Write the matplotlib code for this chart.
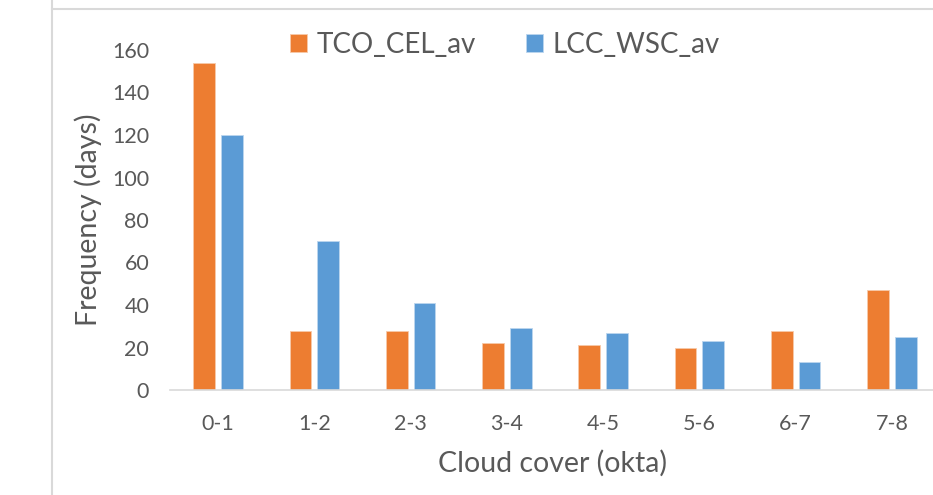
import matplotlib
matplotlib.use("Agg")
import matplotlib.pyplot as plt
from matplotlib.lines import Line2D
import numpy as np

plt.rcParams['font.family'] = ['Lato', 'DejaVu Sans']

categories = ['0-1', '1-2', '2-3', '3-4', '4-5', '5-6', '6-7', '7-8']
tco_cel_av = [154, 28, 28, 22, 21, 20, 28, 47]
lcc_wsc_av = [120, 70, 41, 29, 27, 23, 13, 25]
yticks = [0, 20, 40, 60, 80, 100, 120, 140, 160]

text_grey = '#595959'
orange = '#ED7D31'
blue = '#5B9BD5'

W, H = 933, 495
fig = plt.figure(figsize=(W / 100, H / 100), dpi=100)

# plot area runs a bit past the right edge of the figure
left, right = 170, 940
bottom, top = 390, 50
ax = fig.add_axes([left / W, 1 - bottom / H, (right - left) / W, (bottom - top) / H])

x = np.arange(len(categories))
bw = 0.225
off = 0.144
ax.bar(x - off, tco_cel_av, bw, color=orange, edgecolor='#f7c9a9', linewidth=0.6,
       label='TCO_CEL_av')
ax.bar(x + off, lcc_wsc_av, bw, color=blue, edgecolor='#bcd6ee', linewidth=0.6,
       label='LCC_WSC_av')

ax.set_xlim(-0.5, len(categories) - 0.5)
ax.set_ylim(0, 160)
ax.set_yticks(yticks)
ax.set_xticks(x)
ax.set_xticklabels(categories)

for s in ['top', 'right', 'left']:
    ax.spines[s].set_visible(False)
ax.spines['bottom'].set_color('#d9d9d9')
ax.spines['bottom'].set_linewidth(1.2)
ax.tick_params(axis='both', length=0, colors=text_grey, labelsize=15.5)
ax.tick_params(axis='x', pad=17)
ax.tick_params(axis='y', pad=15)

ax.set_ylabel('Frequency (days)', fontsize=20.5, color=text_grey, va='center')
ax.yaxis.set_label_coords((88 - left) / (right - left), 0.5)
fig.text(553 / W, 1 - 463 / H, 'Cloud cover (okta)', fontsize=20.5, color=text_grey,
         ha='center', va='center')

leg = fig.legend(loc='center left', bbox_to_anchor=(265 / W, 1 - 45 / H), ncol=2,
                 frameon=False, fontsize=20, handlelength=0.6, handleheight=0.6,
                 handletextpad=0.36, columnspacing=1.8, labelcolor=text_grey)

# light frame lines around the chart
fig.add_artist(Line2D([52 / W, 52 / W], [0, 1], color='#d9d9d9', linewidth=1.5))
fig.add_artist(Line2D([52 / W, 1], [1 - 9 / H, 1 - 9 / H], color='#d9d9d9', linewidth=1.5))

fig.savefig('out.png', dpi=100)
